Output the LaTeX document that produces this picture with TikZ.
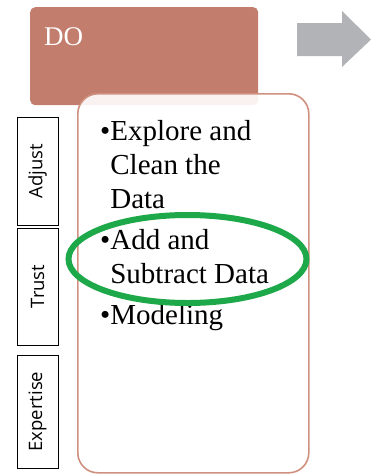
\documentclass[tikz,border=0pt]{standalone}
\usepackage{fontspec}
\setmainfont{Liberation Serif}
\newfontfamily\labelfont{Open Sans}
\usetikzlibrary{shapes.geometric,positioning}

\definecolor{doFill}{HTML}{C27D6D}
\definecolor{bodyLine}{HTML}{D0907F}
\definecolor{arrowGray}{HTML}{B2B3B6}
\definecolor{ringGreen}{HTML}{1DA84A}

\begin{document}
\begin{tikzpicture}[
        x=1pt, y=-1pt,
        phase/.style={
            fill=doFill,
            rounded corners=5pt,
            anchor=north west,
            inner sep=0pt
        },
        body/.style={
            draw=bodyLine,
            line width=1.6pt,
            fill=white,
            fill opacity=0.9,
            rounded corners=20pt,
            anchor=north west,
            inner sep=0pt
        },
        sidebox/.style={
            draw,
            line width=0.8pt,
            rotate=90,
            minimum width=110pt,
            minimum height=41pt,
            inner sep=0pt,
            font=\labelfont\fontsize{18.5}{20}\selectfont
        },
        itemtext/.style={
            align=left,
            inner sep=0pt,
            anchor=base west,
            font=\fontsize{29}{34}\selectfont
        }
    ]
    \useasboundingbox (0,0) rectangle (371,475);
    % phase header
    \node[phase, minimum width=228pt, minimum height=98pt] (do) at (30,7) {};
    \node[anchor=base west, inner sep=0pt, text=white,
        font=\fontsize{27}{30}\selectfont] (dolabel) at (44,45) {DO};
    % arrow to next phase
    \fill[arrowGray] (297,23) -- (342,23) -- (342,11) -- (371,39.5)
        -- (342,67) -- (342,56) -- (297,56) -- cycle;
    % content box
    \node[body, minimum width=231pt, minimum height=379pt] (content) at (77,93) {};
    % side labels
    \node[sidebox, minimum width=108pt] (adjust) at (37.5,171) {Adjust};
    \node[sidebox, minimum width=117pt] (trust) at (37.5,286.5) {Trust};
    \node[sidebox, minimum width=113pt] (expertise) at (37.5,411.5) {Expertise};
    % items (base = last line)
    \node[itemtext] (explore) at (100,208) {\textbullet Explore and\\
        \phantom{\textbullet}Clean the\\\phantom{\textbullet}Data};
    \node[itemtext] (addsub) at (100,283) {\textbullet Add and\\
        \phantom{\textbullet}Subtract Data};
    \node[itemtext] (modeling) at (100,324) {\textbullet Modeling};
    % highlight
    \node[draw=ringGreen, line width=6pt, ellipse, minimum width=238pt,
        minimum height=88pt] (ring) at (187.5,259) {};
\end{tikzpicture}
\end{document}
